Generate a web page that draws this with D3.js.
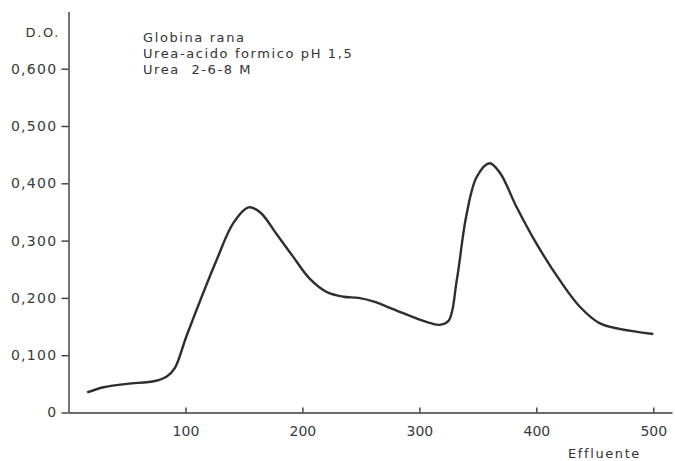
<!DOCTYPE html>
<html>
<head>
<meta charset="utf-8">
<script src="https://cdn.jsdelivr.net/npm/d3@7"></script>
<style>
  body { margin: 0; background: #fff; }
  #chart { width: 675px; height: 461px; }
  .axis path, .axis line { stroke: #3a3a3a; stroke-width: 1.4; }
  .axis text { font-family: "DejaVu Sans", sans-serif; font-size: 14px; fill: #3a3a3a; }
  .note { font-family: "DejaVu Sans", sans-serif; font-size: 13px; fill: #333; letter-spacing: 1.6px; }
</style>
</head>
<body>
<div id="chart"></div>
<script>
// elution profile (effluent volume, optical density)
const effluente = [16, 30, 50, 74, 84, 91, 101, 127, 141, 154, 164, 178, 192, 206, 221, 235, 248,
  262, 278, 306, 317, 325, 332, 340, 349, 360, 369, 383, 400, 420, 437, 454, 471, 500];
const densita = [0.035, 0.044, 0.050, 0.055, 0.063, 0.078, 0.134, 0.268, 0.331, 0.358, 0.349,
  0.311, 0.272, 0.234, 0.210, 0.202, 0.200, 0.193, 0.180, 0.158, 0.153, 0.160, 0.231, 0.342, 0.411,
  0.435, 0.418, 0.359, 0.295, 0.231, 0.185, 0.156, 0.146, 0.137];

const xTicks = [100, 200, 300, 400, 500];
const yTicks = [0, 0.1, 0.2, 0.3, 0.4, 0.5, 0.6];
const yTickLabels = ["0", "0,100", "0,200", "0,300", "0,400", "0,500", "0,600"];
const noteLines = ["Globina rana", "Urea-acido formico pH 1,5", "Urea  2-6-8 M"];

function renderChart(selector) {
    const svg = d3.select(selector).append("svg")
        .attr("width", 675)
        .attr("height", 461);

    const x = d3.scaleLinear()
        .domain([0, 516])
        .range([68.5, 672]);

    const y = d3.scaleLinear()
        .domain([0, 0.7])
        .range([412.5, 11.4]);

    svg.append("g")
        .attr("class", "axis axis-x")
        .attr("transform", "translate(0, 412.5)")
        .call(d3.axisBottom(x).tickValues(xTicks).tickSize(-5).tickSizeOuter(0).tickPadding(14));

    const yAxis = svg.append("g")
        .attr("class", "axis axis-y")
        .attr("transform", "translate(68.5, 0)")
        .call(d3.axisLeft(y).tickValues(yTicks).tickSize(7).tickSizeOuter(0).tickPadding(4)
            .tickFormat((d, i) => yTickLabels[i]));
    yAxis.selectAll("text").attr("letter-spacing", "1.3px");

    const line = d3.line()
        .x((d, i) => x(effluente[i]))
        .y(d => y(d))
        .curve(d3.curveCatmullRom.alpha(0.5));

    svg.append("path")
        .datum(densita)
        .attr("d", line)
        .attr("fill", "none")
        .attr("stroke", "#2e2e2e")
        .attr("stroke-width", 2.4)
        .attr("stroke-linejoin", "round");

    svg.append("text")
        .attr("class", "note")
        .attr("x", 60)
        .attr("y", 37)
        .attr("text-anchor", "end")
        .text("D.O.");

    svg.selectAll(".note-line")
        .data(noteLines)
        .enter()
        .append("text")
        .attr("class", "note note-line")
        .attr("x", 143)
        .attr("y", (d, i) => 42 + i * 16)
        .attr("xml:space", "preserve")
        .style("white-space", "pre")
        .text(d => d);

    svg.append("text")
        .attr("class", "note")
        .attr("x", 568)
        .attr("y", 458)
        .text("Effluente");
}

renderChart("#chart");
</script>
</body>
</html>
